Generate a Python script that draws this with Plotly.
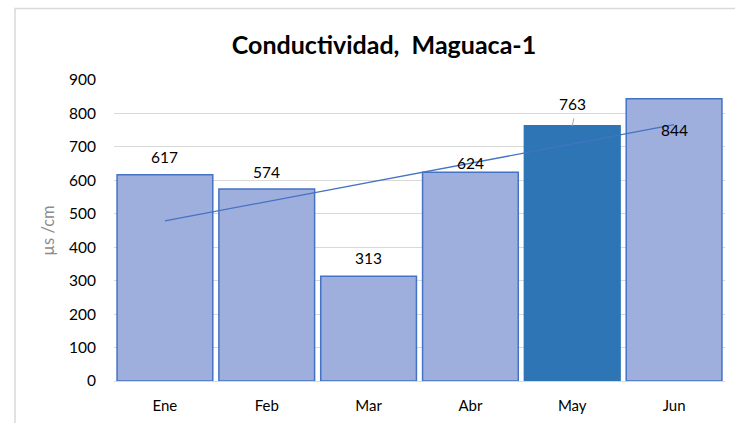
import numpy as np
import plotly.graph_objects as go

# Monthly conductivity readings
months = ["Ene", "Feb", "Mar", "Abr", "May", "Jun"]
conductivity = [617, 574, 313, 624, 763, 844]
# vertical offset (px) of each value label relative to the bar top
label_offsets = [18, 17, 18, 9, 22, -31]

FONT = "Lato"
base_fill = "#9EAFDD"
edge = "#4472C4"
highlight = "#2E75B6"

fills = [highlight if m == "May" else base_fill for m in months]
edges = [highlight if m == "May" else edge for m in months]

fig = go.Figure()
fig.add_trace(go.Bar(
    x=months, y=conductivity,
    marker=dict(color=fills, line=dict(color=edges, width=1.5)),
    width=0.94, showlegend=False, hoverinfo="x+y",
))

# Linear trend fitted to the monthly values
idx = np.arange(len(months))
slope, intercept = np.polyfit(idx, conductivity, 1)
trend = slope * idx + intercept
fig.add_trace(go.Scatter(
    x=months, y=trend, mode="lines",
    line=dict(color="#4472C4", width=1.3), showlegend=False, hoverinfo="skip",
))

for m, v, off in zip(months, conductivity, label_offsets):
    fig.add_annotation(
        x=m, y=v, yref="y", text=str(v), showarrow=False,
        yshift=off, font=dict(family=FONT, size=15.5, color="#000000"),
    )

# short leader line for the May label
fig.add_annotation(
    x="May", y=763, ax=2, ay=-9, axref="pixel", ayref="pixel",
    showarrow=True, arrowhead=0, arrowwidth=1, arrowcolor="#A6A6A6", text="",
)

# outer chart frame
fig.add_shape(
    type="rect", xref="paper", yref="paper",
    x0=(15 - 114) / 611, x1=1.05, y0=-0.3, y1=(381 - 8.5) / 301,
    line=dict(color="#D9D9D9", width=1.5), fillcolor="rgba(0,0,0,0)", layer="below",
)

fig.update_layout(
    width=735, height=423,
    margin=dict(l=114, r=10, t=80, b=42),
    paper_bgcolor="white", plot_bgcolor="white",
    bargap=0.06,
    title=dict(
        text="<b>Conductividad,  Maguaca-1</b>",
        x=(384 - 114) / 611, xref="paper", xanchor="center",
        y=1 - 45 / 423, yref="container", yanchor="middle",
        font=dict(family=FONT, size=25, color="#000000"),
    ),
    font=dict(family=FONT),
)

fig.update_xaxes(
    showgrid=False, showline=True, linecolor="#D9D9D9", linewidth=1,
    ticks="", tickfont=dict(family=FONT, size=15, color="#000000"),
    ticklabelstandoff=11,
)
fig.update_yaxes(
    range=[0, 900], dtick=100, showgrid=True, gridcolor="#D9D9D9", gridwidth=1,
    zeroline=False, showline=False, ticks="",
    tickfont=dict(family=FONT, size=15.5, color="#000000"), ticklabelstandoff=17,
    title=dict(text="µs /cm", font=dict(family=FONT, size=16.5, color="#8C8C8C"), standoff=10),
)

fig.write_html("out.html")
